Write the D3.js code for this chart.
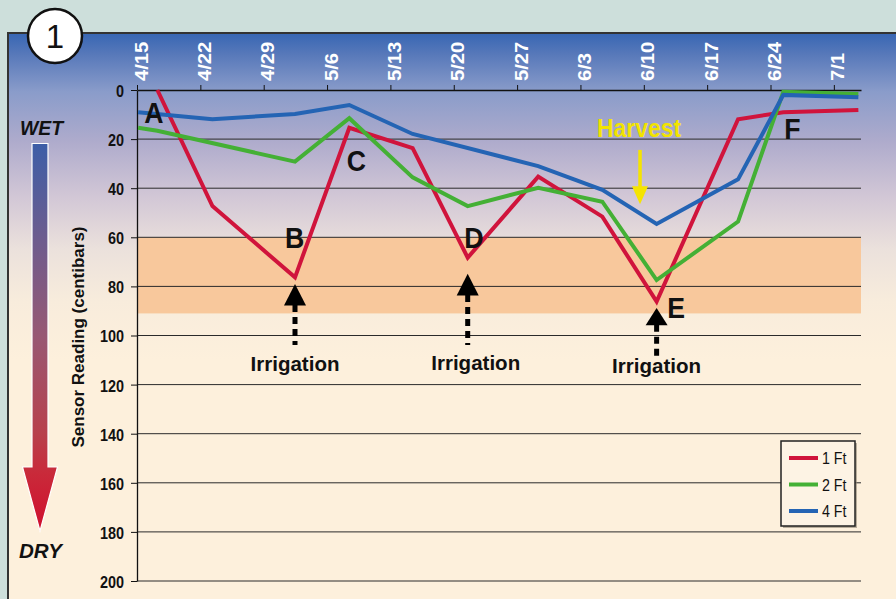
<!DOCTYPE html>
<html><head><meta charset="utf-8">
<script src="https://cdn.jsdelivr.net/npm/d3@7"></script>
<style>html,body{margin:0;padding:0;background:#cddfdb;}svg{display:block;font-family:"Liberation Sans",Arial,sans-serif;}</style>
</head><body>
<script>
// ---- data ----
const sampleDates = ["2003-04-15T03","2003-04-17T06","2003-04-23T08","2003-05-02T11","2003-05-08T11","2003-05-15T11","2003-05-21T13","2003-05-29T08","2003-06-05T10","2003-06-11T10","2003-06-20T10","2003-06-25T10","2003-07-03T17"];
const ft1 = [null, 0, 47.3, 76.3, 15.4, 23.7, 68.3, 35.3, 51.6, 86.2, 11.9, 9.1, 8.1];
const ft2 = [15.4, 16.6, null, 29.2, 11.5, 35.6, 47.3, 39.8, 45.5, 77.4, 53.6, 0.7, 1.6];
const ft4 = [9.1, null, 11.9, 9.8, 6.1, 17.9, null, 31.0, 40.7, 54.6, 36.4, 2.0, 3.0];
const seriesNames = ["1 Ft", "2 Ft", "4 Ft"];
const seriesColors = ["#d0143c", "#44b035", "#2464b4"];
const xTickLabels = ["4/15","4/22","4/29","5/6","5/13","5/20","5/27","6/3","6/10","6/17","6/24","7/1"];
const yTickValues = [0,20,40,60,80,100,120,140,160,180,200];
const dryBand = [60, 91];
const pointLabels = ["A","B","C","D","E","F"];
const pointLabelDates = ["2003-04-15T03","2003-05-02T11","2003-05-08T11","2003-05-21T13","2003-06-11T10","2003-06-25T10"];
const pointLabelLevels = [13.3, 64.5, 32.8, 64.2, 93, 20.1];
const irrigationDates = ["2003-05-02T11","2003-05-21T13","2003-06-11T10"];
const harvestDate = "2003-06-09T14";

const parse = d3.utcParse("%Y-%m-%dT%H");
const W = 896, H = 599;
const svg = d3.select("body").append("svg").attr("width", W).attr("height", H);
const defs = svg.append("defs");

// background panel gradient
const pg = defs.append("linearGradient").attr("id","panelGrad").attr("gradientUnits","userSpaceOnUse")
  .attr("x1",0).attr("y1",33).attr("x2",0).attr("y2",360);
[[0,"#3766b3"],[0.06,"#5577b9"],[0.18,"#8a9cca"],[0.33,"#aeabcc"],[0.5,"#d2c7d6"],[0.66,"#ebe1dc"],[0.82,"#f8ecdc"],[1,"#fdf0dc"]]
  .forEach(([o,c]) => pg.append("stop").attr("offset",o).attr("stop-color",c));
svg.append("rect").attr("width",W).attr("height",H).attr("fill","#cddfdb");
svg.append("rect").attr("x",8).attr("y",33).attr("width",W).attr("height",H)
  .attr("fill","url(#panelGrad)").attr("stroke","#333").attr("stroke-width",2);

// scales
const x = d3.scaleUtc().domain([parse("2003-04-15T00"), parse("2003-07-04T00")]).range([137, 861]);
const y = d3.scaleLinear().domain([0, 200]).range([90, 581]);

// dry band
svg.append("rect").attr("x", 137).attr("width", 861 - 137)
  .attr("y", y(dryBand[0])).attr("height", y(dryBand[1]) - y(dryBand[0])).attr("fill", "#f8c89c");

// gridlines
svg.append("g").selectAll("line").data(yTickValues.filter(v => v > 0)).join("line")
  .attr("x1", 137).attr("x2", 861).attr("y1", d => y(d)).attr("y2", d => y(d))
  .attr("stroke", "#2a2a2a").attr("stroke-width", 1);

function squeeze(t, f) {
  t.each(function(){ const n = this.getComputedTextLength(); d3.select(this).attr("textLength", n * f).attr("lengthAdjust","spacingAndGlyphs"); });
}

// y axis
const yAxis = svg.append("g").attr("transform","translate(137,0)")
  .call(d3.axisLeft(y).tickValues(yTickValues).tickSize(6).tickSizeOuter(0).tickPadding(7));
yAxis.select(".domain").attr("stroke","#111").attr("stroke-width",1.3);
yAxis.selectAll(".tick line").attr("stroke","#111");
yAxis.selectAll("text").attr("font-size",16).attr("font-weight","bold").attr("fill","#111")
  .attr("font-family","'Liberation Sans',Arial,sans-serif").attr("dy","0.4em");
squeeze(yAxis.selectAll("text"), 0.9);

// x axis (top)
const tickDates = xTickLabels.map(s => { const [m,d] = s.split("/"); return parse(`2003-${m.padStart(2,"0")}-${d.padStart(2,"0")}T00`); });
const xAxis = svg.append("g").attr("transform","translate(0,90)")
  .call(d3.axisTop(x).tickValues(tickDates).tickSize(5).tickSizeOuter(0).tickFormat((d,i) => xTickLabels[i]));
xAxis.select(".domain").attr("stroke","#111").attr("stroke-width",1.5);
xAxis.selectAll(".tick line").attr("stroke","#111");
xAxis.selectAll("text").attr("transform","rotate(-90)").attr("x",9).attr("y",10).attr("dy",0)
  .attr("text-anchor","start").attr("font-size",18).attr("font-weight","bold").attr("fill","#fff")
  .attr("font-family","'Liberation Sans',Arial,sans-serif");
squeeze(xAxis.selectAll("text"), 1.12);

// y axis title
svg.append("text").attr("transform","translate(84,337) rotate(-90)").attr("text-anchor","middle")
  .attr("font-size",16).attr("font-weight","bold").attr("fill","#111")
  .attr("textLength",221).attr("lengthAdjust","spacingAndGlyphs").text("Sensor Reading (centibars)");

// series
const dates = sampleDates.map(parse);
const allSeries = [ft1, ft2, ft4].map((vals, i) => ({
  name: seriesNames[i], color: seriesColors[i],
  pts: vals.map((v, j) => ({ d: dates[j], v })).filter(p => p.v !== null)
}));
const line = d3.line().x(p => x(p.d)).y(p => y(p.v));
svg.append("g").selectAll("path").data(allSeries).join("path")
  .attr("d", s => line(s.pts)).attr("fill","none").attr("stroke", s => s.color)
  .attr("stroke-width",4).attr("stroke-linejoin","miter");

// point letters
const letterDx = [6, -10, -2.5, -3.5, 10.7, 1];
svg.append("g").selectAll("text").data(pointLabels).join("text")
  .attr("x", (d, i) => x(parse(pointLabelDates[i])) + letterDx[i])
  .attr("y", (d, i) => y(pointLabelLevels[i]))
  .attr("text-anchor", "start").attr("font-size", 29).attr("font-weight","bold").attr("fill","#111")
  .text(d => d)
  .each(function(){ const n=this.getComputedTextLength(); d3.select(this).attr("textLength", n*0.92).attr("lengthAdjust","spacingAndGlyphs"); });

// irrigation arrows
const irrGeom = [[79, 87.6, 103.9, 0, 370.7], [74.8, 83.5, 103.9, 8, 370.3], [88.8, 95.6, 108.5, 0, 373.3]];
irrigationDates.forEach((ds, i) => {
  const cx = x(parse(ds));
  const [tip, base, end, tdx, tby] = irrGeom[i];
  const g = svg.append("g");
  g.append("line").attr("x1",cx).attr("x2",cx).attr("y1",y(base)).attr("y2",y(end))
    .attr("stroke","#000").attr("stroke-width",5).attr("stroke-dasharray","7,5");
  g.append("path").attr("d",`M${cx},${y(tip)}L${cx+11},${y(base)+0.5}L${cx-11},${y(base)+0.5}Z`).attr("fill","#000");
  g.append("text").attr("x", cx + tdx).attr("y", tby).attr("text-anchor","middle")
    .attr("font-size",20.5).attr("font-weight","bold").attr("fill","#111")
    .attr("textLength",89).attr("lengthAdjust","spacingAndGlyphs").text("Irrigation");
});

// harvest
const hx = x(parse(harvestDate));
svg.append("line").attr("x1",hx).attr("x2",hx).attr("y1",y(24.4)).attr("y2",y(39.5))
  .attr("stroke","#f5e400").attr("stroke-width",3.5);
svg.append("path").attr("d",`M${hx-8},${y(39.2)}L${hx+8},${y(39.2)}L${hx},${y(46.5)}Z`).attr("fill","#f5e400");
svg.append("text").attr("x", hx - 1).attr("y", y(19.2)).attr("text-anchor","middle")
  .attr("font-size",25).attr("font-weight","bold").attr("fill","#f2e300")
  .attr("textLength",84).attr("lengthAdjust","spacingAndGlyphs").text("Harvest");

// legend
const lg = svg.append("g").attr("transform","translate(781,441)");
lg.append("rect").attr("x",2).attr("y",2).attr("width",74).attr("height",85).attr("fill","#8a8070").attr("opacity",0.6);
lg.append("rect").attr("width",74).attr("height",85).attr("fill","#fdf3e4").attr("stroke","#222").attr("stroke-width",1.5);
allSeries.forEach((s, i) => {
  const ly = 17 + i * 26.5;
  lg.append("line").attr("x1",8).attr("x2",37).attr("y1",ly).attr("y2",ly).attr("stroke",s.color).attr("stroke-width",4);
  lg.append("text").attr("x",41).attr("y",ly+6).attr("font-size",16).attr("fill","#111")
    .attr("textLength",24.5).attr("lengthAdjust","spacingAndGlyphs").text(s.name);
});

// WET / DRY arrow
const ag = defs.append("linearGradient").attr("id","wetDry").attr("gradientUnits","userSpaceOnUse")
  .attr("x1",0).attr("y1",143).attr("x2",0).attr("y2",531);
[[0,"#3d5ea7"],[0.25,"#6d5c8e"],[0.5,"#985873"],[0.75,"#b8404c"],[0.85,"#c92a3a"],[1,"#d00e2e"]]
  .forEach(([o,c]) => ag.append("stop").attr("offset",o).attr("stop-color",c));
svg.append("path").attr("d","M32,143.5L48,143.5L48,467L57.5,467L40,531L22.5,467L32,467Z")
  .attr("fill","url(#wetDry)").attr("stroke","#fff").attr("stroke-width",1.2);
svg.append("text").attr("x",20).attr("y",135).attr("font-size",21).attr("font-weight","bold").attr("font-style","italic")
  .attr("fill","#111").attr("textLength",43).attr("lengthAdjust","spacingAndGlyphs").text("WET");
svg.append("text").attr("x",19).attr("y",558).attr("font-size",20).attr("font-weight","bold").attr("font-style","italic")
  .attr("fill","#111").attr("textLength",43).attr("lengthAdjust","spacingAndGlyphs").text("DRY");

// badge
svg.append("circle").attr("cx",55).attr("cy",36).attr("r",27).attr("fill","#fff").attr("stroke","#111").attr("stroke-width",2.5);
svg.append("text").attr("x",55).attr("y",48).attr("text-anchor","middle").attr("font-size",33).attr("fill","#111").text("1");
</script>
</body></html>
